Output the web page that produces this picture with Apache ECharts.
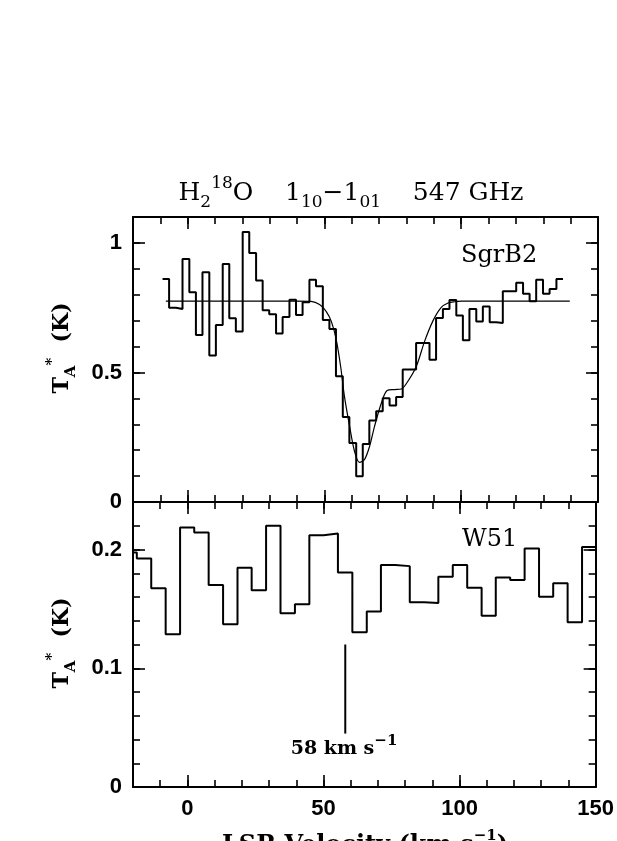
<!DOCTYPE html>
<html>
<head>
<meta charset="utf-8">
<title>H2 18O 547 GHz</title>
<script src="https://cdn.jsdelivr.net/npm/echarts@6/dist/echarts.min.js"></script>
<style>
html, body { margin: 0; padding: 0; background: #fff; }
#main { width: 617px; height: 841px; }
</style>
</head>
<body>
<div id="main"></div>
<script>
// SgrB2 : left edge of each channel (km/s) and T_A* (K)
var sgrVel = [-9.2, -6.8, -4.3, -1.9, 0.6, 3.0, 5.4, 7.9, 10.3, 12.8,
	15.2, 17.6, 20.1, 22.5, 25.0, 27.4, 29.8, 32.3, 34.7, 37.2,
	39.6, 42.0, 44.5, 46.9, 49.4, 51.8, 54.2, 56.7, 59.1, 61.6,
	64.0, 66.4, 68.9, 71.3, 73.8, 76.2, 78.6, 81.1, 83.5, 86.0,
	88.4, 90.8, 93.3, 95.7, 98.2, 100.6, 103.0, 105.5, 107.9, 110.4,
	112.8, 115.2, 117.7, 120.1, 122.6, 125.0, 127.4, 129.9, 132.3, 134.8];
var sgrEnd = 137.2;
var sgrTa = [0.861, 0.750, 0.745, 0.938, 0.810, 0.645, 0.887, 0.565, 0.683, 0.919,
	0.709, 0.658, 1.042, 0.961, 0.855, 0.740, 0.725, 0.650, 0.714, 0.781,
	0.722, 0.771, 0.858, 0.833, 0.702, 0.668, 0.485, 0.328, 0.228, 0.099,
	0.224, 0.315, 0.350, 0.400, 0.372, 0.405, 0.511, 0.511, 0.614, 0.614,
	0.549, 0.710, 0.745, 0.780, 0.720, 0.624, 0.745, 0.697, 0.755, 0.694,
	0.691, 0.813, 0.813, 0.846, 0.804, 0.775, 0.858, 0.804, 0.822, 0.861];

// gaussian fit drawn over SgrB2
var fitVel = [-8.0, 20, 40, 45.1, 48.2, 50.6, 52.5, 54.3, 55.9, 57.3,
	59.2, 61.0, 62.8, 64.6, 66.5, 68.3, 70.8, 72.9, 75.6, 78.1,
	80.5, 83.6, 86.6, 89.7, 92.7, 95.2, 97.6, 100, 120, 139.7];
var fitTa = [0.775, 0.775, 0.775, 0.774, 0.762, 0.736, 0.697, 0.627, 0.524, 0.408,
	0.292, 0.195, 0.153, 0.163, 0.215, 0.292, 0.382, 0.430, 0.434, 0.436,
	0.466, 0.524, 0.620, 0.700, 0.751, 0.768, 0.773, 0.775, 0.775, 0.775];

// W51 : left edge of each channel (km/s) and T_A* (K)
var w51Vel = [-23.8, -18.6, -13.3, -8.0, -2.7, 2.5, 7.8, 13.1, 18.4, 23.6,
	28.9, 34.2, 39.5, 44.8, 50.0, 55.3, 60.6, 65.9, 71.1, 76.4,
	81.7, 87.0, 92.2, 97.5, 102.8, 108.1, 113.3, 118.6, 123.9, 129.2,
	134.4, 139.7, 145.0];
var w51End = 150.3;
var w51Ta = [0.1975, 0.1924, 0.1673, 0.1287, 0.2185, 0.2143, 0.1701, 0.1371, 0.1846, 0.1656,
	0.2199, 0.1463, 0.1538, 0.2120, 0.2134, 0.1807, 0.1304, 0.1477, 0.1869, 0.1860,
	0.1555, 0.1550, 0.1771, 0.1869, 0.1678, 0.1443, 0.1765, 0.1743, 0.2008, 0.1603,
	0.1715, 0.1387, 0.2022];

// 58 km/s marker
var markVel = 58;
var markTa = [0.045, 0.12];

// ticks
var xMajor = [0, 50, 100, 150];
var sgrYMajor = [0, 0.5, 1];
var w51YMajor = [0, 0.1, 0.2];

var black = '#000';
var labFont = {color: black, fontFamily: '"Liberation Sans", Arial, sans-serif', fontWeight: 'bold', fontSize: 22};
var serif = '"DejaVu Serif", "Liberation Serif", serif';

function stepData(edges, vals, end) {
	var d = [];
	for (var i = 0; i < vals.length; i++) {
		d.push([edges[i], vals[i]]);
	}
	d.push([end, vals[vals.length - 1]]);
	return d;
}

function pairs(xs, ys) {
	var d = [];
	for (var i = 0; i < xs.length; i++) d.push([xs[i], ys[i]]);
	return d;
}

// 4 x axes per panel: bottom major/minor, top major/minor
function makeX(grid, labels) {
	var list = [];
	['bottom', 'top'].forEach(function (pos) {
		list.push({
			gridIndex: grid, type: 'value', position: pos, min: -20, max: 150,
			axisLine: {show: true, onZero: false, lineStyle: {color: black, width: 2}},
			axisTick: {show: true, inside: true, length: 12, customValues: xMajor, lineStyle: {color: black, width: 1.6}},
			axisLabel: Object.assign({show: labels && pos == 'bottom', customValues: xMajor, margin: 11}, labFont),
			splitLine: {show: false}
		});
		list.push({
			gridIndex: grid, type: 'value', position: pos, min: -20, max: 150, interval: 10,
			axisLine: {show: false, onZero: false},
			axisTick: {show: true, inside: true, length: 7, lineStyle: {color: black, width: 1.6}},
			axisLabel: {show: false},
			splitLine: {show: false}
		});
	});
	return list;
}

function makeY(grid, max, major, minorStep) {
	var list = [];
	['left', 'right'].forEach(function (pos) {
		list.push({
			gridIndex: grid, type: 'value', position: pos, min: 0, max: max,
			axisLine: {show: true, onZero: false, lineStyle: {color: black, width: 2}},
			axisTick: {show: true, inside: true, length: 12, customValues: major, lineStyle: {color: black, width: 1.6}},
			axisLabel: Object.assign({show: pos == 'left', customValues: major, margin: 11}, labFont),
			splitLine: {show: false}
		});
		list.push({
			gridIndex: grid, type: 'value', position: pos, min: 0, max: max, interval: minorStep,
			axisLine: {show: false, onZero: false},
			axisTick: {show: true, inside: true, length: 7, lineStyle: {color: black, width: 1.6}},
			axisLabel: {show: false},
			splitLine: {show: false}
		});
	});
	return list;
}

var supsub = {
	s: {fontFamily: serif, fontSize: 17, lineHeight: 17, verticalAlign: 'bottom', fill: black},
	p: {fontFamily: serif, fontSize: 17, lineHeight: 17, verticalAlign: 'top', fill: black}
};
var supsubBold = {
	s: {fontFamily: serif, fontWeight: 'bold', fontSize: 15, lineHeight: 15, verticalAlign: 'bottom', fill: black},
	p: {fontFamily: serif, fontWeight: 'bold', fontSize: 15, lineHeight: 15, verticalAlign: 'top', fill: black}
};

var chart = echarts.init(document.getElementById('main'), null, {renderer: 'canvas'});

var option = {
	animation: false,
	backgroundColor: '#fff',
	grid: [
		{left: 133, right: 19, top: 217, height: 285},
		{left: 133, right: 19, top: 502, height: 285}
	],
	xAxis: makeX(0, false).concat(makeX(1, true)),
	yAxis: makeY(0, 1.1, sgrYMajor, 0.1).concat(makeY(1, 0.24, w51YMajor, 0.02)),
	series: [
		{
			name: 'SgrB2', type: 'line', xAxisIndex: 0, yAxisIndex: 0,
			step: 'end', symbol: 'none', data: stepData(sgrVel, sgrTa, sgrEnd),
			lineStyle: {color: black, width: 2}
		},
		{
			name: 'fit', type: 'line', xAxisIndex: 0, yAxisIndex: 0,
			smooth: 0.3, symbol: 'none', data: pairs(fitVel, fitTa),
			lineStyle: {color: black, width: 1.2}
		},
		{
			name: 'W51', type: 'line', xAxisIndex: 4, yAxisIndex: 4,
			step: 'end', symbol: 'none', data: stepData(w51Vel, w51Ta, w51End),
			lineStyle: {color: black, width: 2}
		},
		{
			name: '58', type: 'line', xAxisIndex: 4, yAxisIndex: 4,
			symbol: 'none', data: [[markVel, markTa[0]], [markVel, markTa[1]]],
			lineStyle: {color: black, width: 2}
		}
	],
	graphic: [
		{
			type: 'text', x: 351, y: 193,
			style: {
				text: 'H{s|2}{p|18}O    1{s|10}−1{s|01}    547 GHz',
				font: '25px ' + serif, fill: black, lineHeight: 36,
				align: 'center', verticalAlign: 'middle', rich: supsub
			}
		},
		{
			type: 'text', x: 461, y: 256,
			style: {text: 'SgrB2', font: '24px ' + serif, fill: black, align: 'left', verticalAlign: 'middle'}
		},
		{
			type: 'text', x: 462, y: 540,
			style: {text: 'W51', font: '24px ' + serif, fill: black, align: 'left', verticalAlign: 'middle'}
		},
		{
			type: 'text', x: 62, y: 348, rotation: Math.PI / 2,
			style: {
				text: 'T{s|A}{p|*}  (K)', font: 'bold 22px ' + serif, fill: black, lineHeight: 34,
				align: 'center', verticalAlign: 'middle', rich: supsubBold
			}
		},
		{
			type: 'text', x: 62, y: 643, rotation: Math.PI / 2,
			style: {
				text: 'T{s|A}{p|*}  (K)', font: 'bold 22px ' + serif, fill: black, lineHeight: 34,
				align: 'center', verticalAlign: 'middle', rich: supsubBold
			}
		},
		{
			type: 'text', x: 344, y: 749,
			style: {
				text: '58 km s{p|−1}', font: 'bold 19px ' + serif, fill: black, lineHeight: 30,
				align: 'center', verticalAlign: 'middle', rich: supsubBold
			}
		},
		{
			type: 'text', x: 365, y: 846,
			style: {
				text: 'LSR Velocity (km s{p|−1})', font: 'bold 24px ' + serif, fill: black, lineHeight: 34,
				align: 'center', verticalAlign: 'middle', rich: supsubBold
			}
		}
	]
};

chart.setOption(option);
</script>
</body>
</html>
